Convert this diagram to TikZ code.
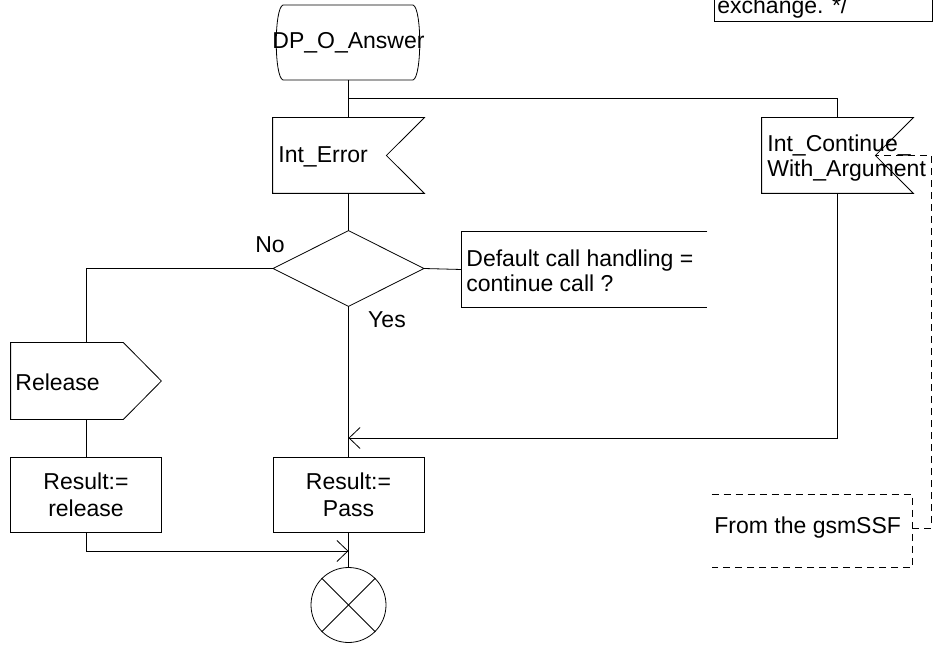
\documentclass[tikz,border=0pt]{standalone}
\usepackage{fontspec}
\setmainfont{Liberation Sans}
\usetikzlibrary{arrows.meta}
\begin{document}
\begin{tikzpicture}[x=1pt,y=-1pt,line width=0.8pt,
  every node/.style={font=\fontsize{23}{25}\selectfont, inner sep=0pt},
  frame/.style={minimum width=#1, minimum height=75},
  plainbox/.style={draw, minimum width=151, minimum height=75, align=center, font=\fontsize{23}{27}\selectfont},
  lbl/.style={anchor=west, align=left},
  barb/.style={-{Straight Barb[length=11pt,width=21pt]}},
  dsh/.style={dash pattern=on 7pt off 5pt}]
\useasboundingbox (0,0) rectangle (938,647);
\clip (0,0) rectangle (938,647);

% top comment box (cut off)
\node[draw, minimum width=218, minimum height=80] (note) at (823,-19) {};
\node[anchor=base west] (notetxt) at (717,14) {exchange. */};

% start state
\node[frame=144] (start) at (348.5,42.5) {DP\_O\_Answer};
\draw (283,5) -- (413,5) .. controls (422,8) and (422,77) .. (413,80)
      -- (283,80) .. controls (274,77) and (274,8) .. (283,5);

% Int_Error (input)
\node[frame=151] (interr) at (348.5,155.5) {};
\draw (interr.north west) -- (interr.north east) -- ([xshift=-38]interr.east)
      -- (interr.south east) -- (interr.south west) -- cycle;
\node[lbl] (interrtxt) at (278,157) {Int\_Error};

% Int_Continue_With_Argument (input)
\node[frame=151] (icont) at (837.5,155.5) {};
\draw (icont.north west) -- (icont.north east) -- ([xshift=-38]icont.east) coordinate (notch)
      -- (icont.south east) -- (icont.south west) -- cycle;
\node[lbl] (iconttxt) at (767,158) {Int\_Continue\_\\With\_Argument};

% decision
\node[minimum width=150, minimum height=75] (dec) at (348.5,268.5) {};
\draw (dec.north) -- (dec.east) -- (dec.south) -- (dec.west) -- cycle;
\node (no) at (270,245) {No};
\node (yes) at (387,320) {Yes};

% comment
\node[minimum width=245, minimum height=75] (cmt) at (584.5,269.5) {};
\draw (cmt.north east) -- (cmt.north west) -- (cmt.south west) -- (cmt.south east);
\node[lbl] (cmttxt) at (466,271) {Default call handling =\\continue call ?};

% Release (output)
\node[minimum width=150, minimum height=76] (rel) at (86,381) {};
\draw (rel.north west) -- ([xshift=-38]rel.north east) -- (rel.east)
      -- ([xshift=-38]rel.south east) -- (rel.south west) -- cycle;
\node[lbl] (reltxt) at (15,382) {Release};

% tasks
\node[plainbox] (resrel) at (86,494.5) {Result:=\\release};
\node[plainbox] (pass) at (348.5,494.5) {Result:=\\Pass};

% connector circle
\node[draw, circle, minimum size=75] (endc) at (348.5,605) {};
\draw (endc.north west) -- (endc.south east);
\draw (endc.north east) -- (endc.south west);

% gsmSSF comment (dashed)
\node[minimum width=200, minimum height=72] (src) at (812,531) {};
\draw[dsh] (src.north west) -- (src.north east) -- (src.south east) -- (src.south west);
\node[lbl] (srctxt) at (714,528) {From the gsmSSF};
\coordinate (srcport) at (912,528);
\draw[dsh] (srcport) -- (931,528) |- (notch);

% flow lines
\coordinate (branch) at (348.5,98);
\coordinate (join) at (348.5,438);
\coordinate (merge) at (348.5,551);
\draw (start.south) -- (interr.north);
\draw (branch) -| (icont.north);
\draw (interr.south) -- (dec.north);
\draw (dec.east) -- (cmt.west);
\draw (dec.south) -- (pass.north);
\draw (dec.west) -| (rel.north);
\draw (rel.south) -- (resrel.north);
\draw[barb] (icont.south) |- (join);
\draw[barb] (resrel.south) |- (merge);
\draw (pass.south) -- (endc.north);
\end{tikzpicture}
\end{document}
